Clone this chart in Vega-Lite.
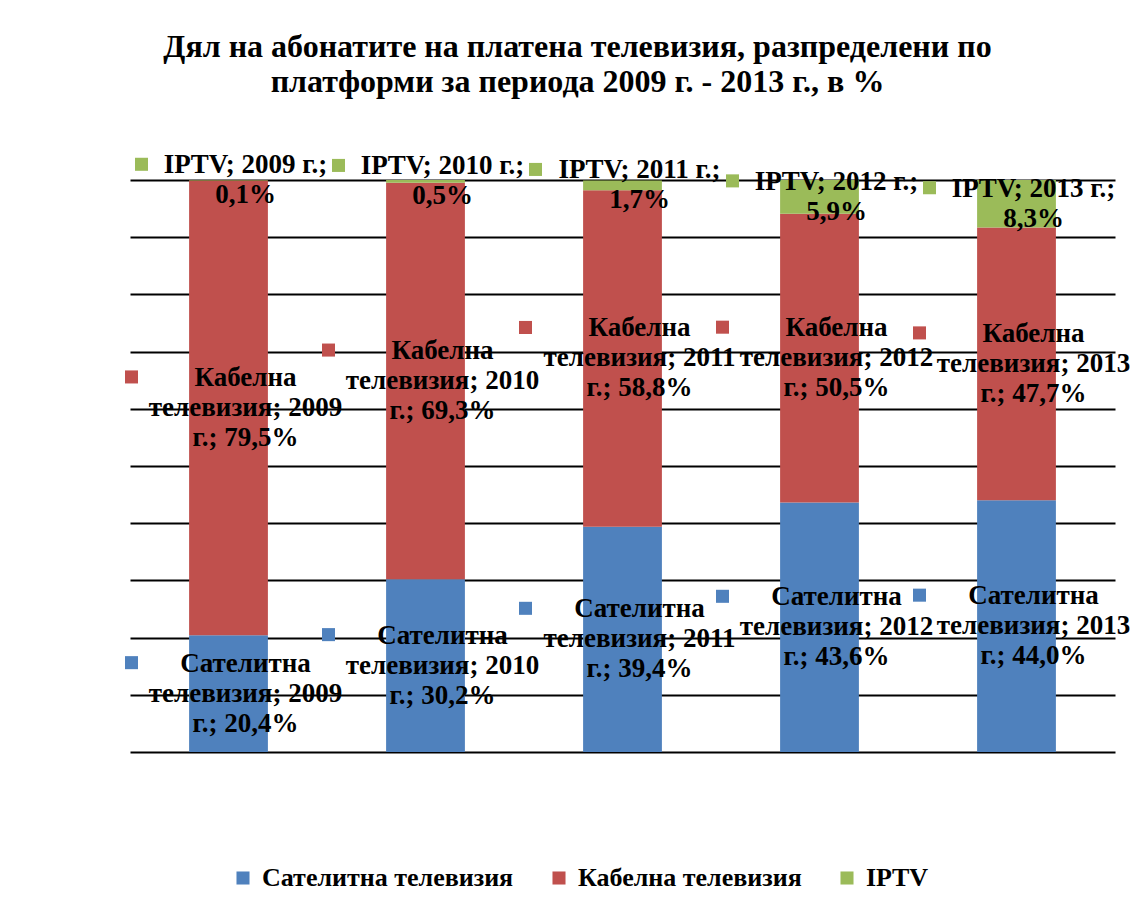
{
  "$schema": "https://vega.github.io/schema/vega-lite/v6.json",
  "autosize": "none",
  "width": 985,
  "height": 572,
  "padding": {"left": 130, "top": 180, "right": 24, "bottom": 161},
  "background": "white",
  "title": {
    "text": ["Дял на абонатите на платена телевизия, разпределени по", "платформи за периода 2009 г. - 2013 г., в %"],
    "font": "Liberation Serif",
    "fontSize": 32,
    "fontWeight": "bold",
    "color": "black",
    "lineHeight": 35,
    "anchor": "middle",
    "dx": -45,
    "offset": 52
  },
  "data": {
    "values": [
      {"year": "2009", "platform": "Сателитна телевизия", "value": 20.4},
      {"year": "2009", "platform": "Кабелна телевизия", "value": 79.5},
      {"year": "2009", "platform": "IPTV", "value": 0.1},
      {"year": "2010", "platform": "Сателитна телевизия", "value": 30.2},
      {"year": "2010", "platform": "Кабелна телевизия", "value": 69.3},
      {"year": "2010", "platform": "IPTV", "value": 0.5},
      {"year": "2011", "platform": "Сателитна телевизия", "value": 39.4},
      {"year": "2011", "platform": "Кабелна телевизия", "value": 58.8},
      {"year": "2011", "platform": "IPTV", "value": 1.7},
      {"year": "2012", "platform": "Сателитна телевизия", "value": 43.6},
      {"year": "2012", "platform": "Кабелна телевизия", "value": 50.5},
      {"year": "2012", "platform": "IPTV", "value": 5.9},
      {"year": "2013", "platform": "Сателитна телевизия", "value": 44.0},
      {"year": "2013", "platform": "Кабелна телевизия", "value": 47.7},
      {"year": "2013", "platform": "IPTV", "value": 8.3}
    ]
  },
  "transform": [
    {"calculate": "indexof(['Сателитна телевизия','Кабелна телевизия','IPTV'], datum.platform)", "as": "ord"},
    {"stack": "value", "groupby": ["year"], "sort": [{"field": "ord", "order": "ascending"}], "as": ["y0", "y1"]},
    {"calculate": "(datum.y0 + datum.y1) / 2", "as": "mid"},
    {"calculate": "replace(format(datum.value, '.1f'), '.', ',') + '%'", "as": "pct"},
    {"calculate": "datum.platform == 'IPTV' ? 'IPTV; ' + datum.year + ' г.;\\n' + datum.pct : split(datum.platform, ' ')[0] + '\\nтелевизия; ' + datum.year + '\\nг.; ' + datum.pct", "as": "label"}
  ],
  "encoding": {
    "x": {
      "field": "year",
      "type": "nominal",
      "sort": null,
      "scale": {"paddingInner": 0.6, "paddingOuter": 0.3},
      "axis": null
    }
  },
  "layer": [
    {
      "mark": {"type": "bar"},
      "encoding": {
        "y": {
          "field": "y0",
          "type": "quantitative",
          "scale": {"domain": [0, 100], "nice": false, "zero": true},
          "axis": {
            "title": null,
            "labels": false,
            "ticks": false,
            "domain": false,
            "grid": true,
            "gridColor": "black",
            "gridWidth": 2,
            "gridOpacity": 1,
            "values": [0, 10, 20, 30, 40, 50, 60, 70, 80, 90, 100]
          }
        },
        "y2": {"field": "y1"},
        "color": {
          "field": "platform",
          "type": "nominal",
          "scale": {
            "domain": ["Сателитна телевизия", "Кабелна телевизия", "IPTV"],
            "range": ["#4F81BD", "#C0504D", "#9BBB59"]
          },
          "legend": {
            "orient": "none",
            "legendX": 100,
            "legendY": 685,
            "direction": "horizontal",
            "title": null,
            "symbolType": "square",
            "symbolSize": 170,
            "symbolStrokeWidth": 0,
            "labelFont": "Liberation Serif",
            "labelFontSize": 26,
            "labelFontWeight": "bold",
            "labelColor": "black",
            "columnPadding": 32,
            "labelOffset": 6,
            "labelLimit": 400
          }
        }
      }
    },
    {
      "transform": [{"filter": "datum.platform != 'IPTV'"}],
      "mark": {"type": "point", "shape": "square", "filled": true, "size": 170, "opacity": 1, "xOffset": -97, "yOffset": -31},
      "encoding": {
        "y": {"field": "mid", "type": "quantitative"},
        "color": {"field": "platform", "type": "nominal", "legend": null}
      }
    },
    {
      "transform": [{"filter": "datum.platform == 'IPTV'"}],
      "mark": {"type": "point", "shape": "square", "filled": true, "size": 170, "opacity": 1, "xOffset": -87, "yOffset": -16},
      "encoding": {
        "y": {"field": "mid", "type": "quantitative"},
        "color": {"field": "platform", "type": "nominal", "legend": null}
      }
    },
    {
      "transform": [{"filter": "datum.platform != 'IPTV'"}],
      "mark": {
        "type": "text",
        "font": "Liberation Serif",
        "fontSize": 27,
        "fontWeight": "bold",
        "color": "black",
        "align": "center",
        "baseline": "middle",
        "lineBreak": "\n",
        "lineHeight": 30,
        "xOffset": 17,
        "dy": -30
      },
      "encoding": {
        "y": {"field": "mid", "type": "quantitative"},
        "text": {"field": "label", "type": "nominal"}
      }
    },
    {
      "transform": [{"filter": "datum.platform == 'IPTV'"}],
      "mark": {
        "type": "text",
        "font": "Liberation Serif",
        "fontSize": 27,
        "fontWeight": "bold",
        "color": "black",
        "align": "center",
        "baseline": "middle",
        "lineBreak": "\n",
        "lineHeight": 30,
        "xOffset": 17,
        "dy": -15
      },
      "encoding": {
        "y": {"field": "mid", "type": "quantitative"},
        "text": {"field": "label", "type": "nominal"}
      }
    }
  ],
  "resolve": {"axis": {"y": "shared"}},
  "config": {
    "view": {"stroke": null},
    "axisY": {"values": [0, 10, 20, 30, 40, 50, 60, 70, 80, 90, 100], "labels": false, "ticks": false, "domain": false, "title": null, "grid": true, "gridColor": "black", "gridWidth": 2, "gridOpacity": 1}
  }
}
